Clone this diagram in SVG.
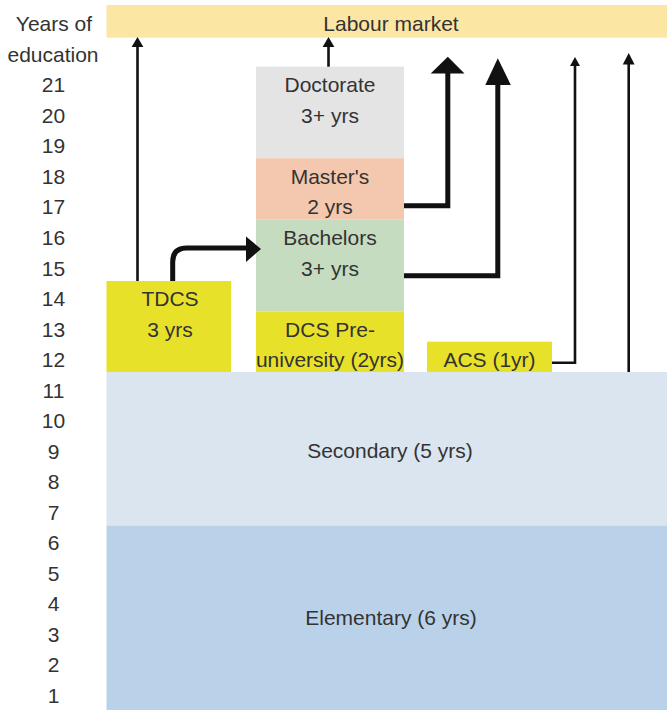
<svg xmlns="http://www.w3.org/2000/svg" width="667" height="710" viewBox="0 0 667 710">
<style>
text{font-family:"Liberation Sans",Arial,sans-serif;font-size:21px;fill:#333;text-anchor:middle}
.thin{stroke:#111;stroke-width:2.6;fill:none}
.thick{stroke:#111;stroke-width:5;fill:none}
.head{fill:#111}
.yel{fill:#e8e12a}
</style>
<rect width="667" height="710" fill="#fff"/>
<g id="axis">
<text x="54" y="30.5">Years of</text>
<text x="53" y="61.5">education</text>
<text x="53.5" y="92">21</text>
<text x="53.5" y="122.5">20</text>
<text x="53.5" y="153">19</text>
<text x="53.5" y="183.5">18</text>
<text x="53.5" y="214">17</text>
<text x="53.5" y="244.5">16</text>
<text x="53.5" y="275.5">15</text>
<text x="53.5" y="306">14</text>
<text x="53.5" y="336.5">13</text>
<text x="53.5" y="367">12</text>
<text x="53.5" y="397.5">11</text>
<text x="53.5" y="428">10</text>
<text x="53.5" y="458.5">9</text>
<text x="53.5" y="489">8</text>
<text x="53.5" y="519.5">7</text>
<text x="53.5" y="550">6</text>
<text x="53.5" y="580.5">5</text>
<text x="53.5" y="611">4</text>
<text x="53.5" y="641.5">3</text>
<text x="53.5" y="672">2</text>
<text x="53.5" y="702.5">1</text>
</g>
<g id="labour">
<rect x="106.5" y="5" width="560.5" height="32.7" fill="#fce6a4"/>
<text x="391" y="30.5">Labour market</text>
</g>
<g id="secondary">
<rect x="106.5" y="372" width="560.5" height="153.5" fill="#dbe5ef"/>
<text x="390" y="457.5">Secondary (5 yrs)</text>
</g>
<g id="elementary">
<rect x="106.5" y="525.5" width="560.5" height="184.5" fill="#bad2e9"/>
<text x="391" y="625">Elementary (6 yrs)</text>
</g>
<g id="tdcs">
<rect class="yel" x="106.5" y="281" width="124.5" height="91"/>
<text x="170" y="306">TDCS</text>
<text x="170" y="336.5">3 yrs</text>
</g>
<g id="doctorate">
<rect x="256" y="66.7" width="148" height="91.6" fill="#e4e4e4"/>
<text x="330" y="92">Doctorate</text>
<text x="330" y="122.5">3+ yrs</text>
</g>
<g id="masters">
<rect x="256" y="158.3" width="148" height="61" fill="#f4c8ae"/>
<text x="330" y="183.5">Master's</text>
<text x="330" y="214">2 yrs</text>
</g>
<g id="bachelors">
<rect x="256" y="219.3" width="148" height="92.4" fill="#c6dcc0"/>
<text x="330" y="244.5">Bachelors</text>
<text x="330" y="275.5">3+ yrs</text>
</g>
<g id="dcs">
<rect class="yel" x="256" y="311.7" width="148" height="60.3"/>
<text x="330" y="336.5">DCS Pre-</text>
<text x="330" y="367">university (2yrs)</text>
</g>
<g id="acs">
<rect class="yel" x="427" y="341.7" width="125" height="30.3"/>
<text x="489.5" y="367">ACS (1yr)</text>
</g>
<g id="connectors">
<line class="thin" x1="137.5" y1="281" x2="137.5" y2="46"/>
<polygon class="head" points="131.6,47 143.4,47 137.5,37"/>
<line class="thin" x1="328.5" y1="66.7" x2="328.5" y2="46"/>
<polygon class="head" points="322.6,47 334.4,47 328.5,37"/>
<path class="thick" d="M172.7,281 V262 Q172.7,248 186.7,248 H248"/>
<polygon class="head" points="246,236.5 261,249 246,262"/>
<path class="thick" d="M404,205.8 H447.8 V72"/>
<polygon class="head" points="430.7,73.5 464.5,73.5 447.8,56.7"/>
<path class="thick" d="M404,275.8 H497.8 V84"/>
<polygon class="head" points="485.3,85 510.8,85 497.8,58.3"/>
<path class="thin" d="M552,362.7 H575 V65"/>
<polygon class="head" points="570,66 580,66 575,57"/>
<line class="thin" x1="628.7" y1="372" x2="628.7" y2="63"/>
<polygon class="head" points="622.8,64.5 634.6,64.5 628.7,53"/>
</g>
</svg>
